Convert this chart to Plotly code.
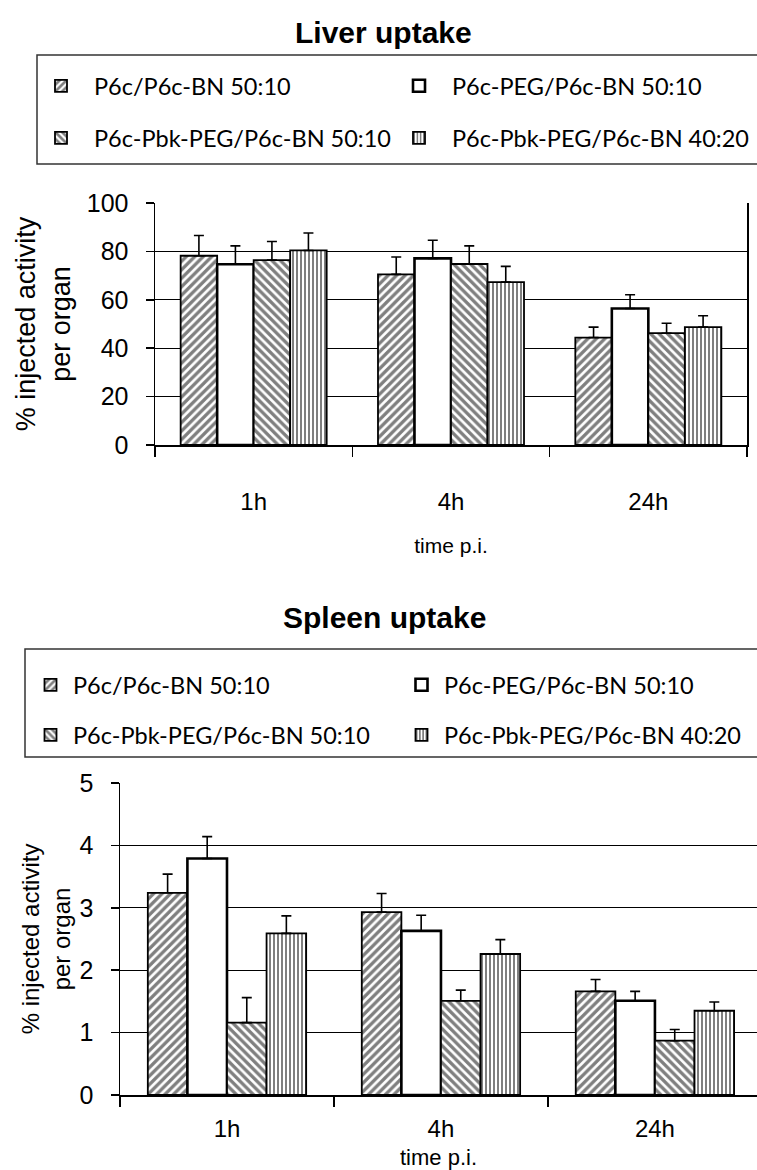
import plotly.graph_objects as go

# ---------------- data ----------------
categories = ["1h", "4h", "24h"]
series_names = [
    "P6c/P6c-BN 50:10",
    "P6c-PEG/P6c-BN 50:10",
    "P6c-Pbk-PEG/P6c-BN 50:10",
    "P6c-Pbk-PEG/P6c-BN 40:20",
]

liver_p6c = [78.2, 70.5, 44.4]
liver_peg = [74.7, 77.1, 56.4]
liver_pbk_50 = [76.4, 74.8, 46.2]
liver_pbk_40 = [80.4, 67.3, 48.7]

liver_p6c_err = [8.4, 7.2, 4.3]
liver_peg_err = [7.6, 7.5, 5.7]
liver_pbk_50_err = [7.7, 7.5, 4.1]
liver_pbk_40_err = [7.2, 6.5, 4.7]

spleen_p6c = [3.24, 2.93, 1.66]
spleen_peg = [3.79, 2.63, 1.51]
spleen_pbk_50 = [1.16, 1.51, 0.87]
spleen_pbk_40 = [2.59, 2.26, 1.35]

spleen_p6c_err = [0.30, 0.30, 0.19]
spleen_peg_err = [0.35, 0.25, 0.15]
spleen_pbk_50_err = [0.40, 0.17, 0.18]
spleen_pbk_40_err = [0.28, 0.23, 0.14]

liver_ticks = [0, 20, 40, 60, 80, 100]
spleen_ticks = [0, 1, 2, 3, 4, 5]

# ---------------- layout helpers ----------------
W, H = 757, 1170


def px(x):
    return x / W


def py(y):
    return 1 - y / H


AX_FONT = "Liberation Sans, Arial, sans-serif"
LEG_FONT = "Lato, Carlito, Calibri, sans-serif"

patterns = ["/", "", "\\", "|"]
pat_sizes = [6, 8, 6, 4]
pat_solid = [0.55, 0.3, 0.55, 0.5]
line_widths = [1.8, 2.6, 1.8, 1.8]

liver_vals = [liver_p6c, liver_peg, liver_pbk_50, liver_pbk_40]
liver_errs = [liver_p6c_err, liver_peg_err, liver_pbk_50_err, liver_pbk_40_err]
spleen_vals = [spleen_p6c, spleen_peg, spleen_pbk_50, spleen_pbk_40]
spleen_errs = [spleen_p6c_err, spleen_peg_err, spleen_pbk_50_err, spleen_pbk_40_err]

fig = go.Figure()


def add_series(vals, errs, xa, ya, legend_ids):
    for i, name in enumerate(series_names):
        fig.add_trace(go.Bar(
            x=categories, y=vals[i], name=name,
            xaxis=xa, yaxis=ya, legend=legend_ids[i],
            marker=dict(
                color="white",
                line=dict(color="black", width=line_widths[i]),
                pattern=dict(shape=patterns[i], fgcolor="black", bgcolor="white",
                             size=pat_sizes[i], solidity=pat_solid[i]),
            ),
            error_y=dict(type="data", array=errs[i], arrayminus=[0] * len(errs[i]),
                         symmetric=False, color="black", thickness=1.6, width=5),
        ))


add_series(liver_vals, liver_errs, "x", "y", ["legend", "legend2", "legend3", "legend4"])
add_series(spleen_vals, spleen_errs, "x2", "y2", ["legend5", "legend6", "legend7", "legend8"])

# legends: one per entry, positioned like the reference boxes
legend_layout = {}
top_text_x = [94, 452]
top_rows = [86, 138]
bot_text_x = [73, 444]
bot_rows = [685, 735]
ids_top = ["legend", "legend2", "legend3", "legend4"]
ids_bot = ["legend5", "legend6", "legend7", "legend8"]
for i in range(4):
    r, c = divmod(i, 2)
    iw_top = 56
    legend_layout[ids_top[i]] = dict(
        x=px(top_text_x[c] - iw_top - 10), y=py(top_rows[r]), xanchor="left", yanchor="middle",
        bgcolor="rgba(0,0,0,0)", borderwidth=0, itemwidth=iw_top,
        font=dict(family=LEG_FONT, size=23.5, color="black"),
    )
    iw_bot = 35
    legend_layout[ids_bot[i]] = dict(
        x=px(bot_text_x[c] - iw_bot - 10), y=py(bot_rows[r]), xanchor="left", yanchor="middle",
        bgcolor="rgba(0,0,0,0)", borderwidth=0, itemwidth=iw_bot,
        font=dict(family=LEG_FONT, size=23.5, color="black"),
    )

fig.update_layout(
    width=W, height=H, autosize=False,
    margin=dict(l=0, r=0, t=0, b=0),
    paper_bgcolor="white", plot_bgcolor="white",
    font=dict(family=AX_FONT, color="black"),
    barmode="group", bargap=0.26, bargroupgap=0,
    showlegend=True,
    **legend_layout,
    xaxis=dict(
        domain=[px(155), px(747)], anchor="y", type="category", range=[-0.5, 2.5],
        showline=True, linecolor="black", linewidth=1.5,
        ticks="outside", tickson="boundaries", ticklen=10, tickwidth=1.5, tickcolor="black",
        tickfont=dict(size=24), ticklabelstandoff=35, showgrid=False,
        title=dict(text="time p.i.", font=dict(size=21), standoff=24),
        automargin=False, fixedrange=True,
    ),
    yaxis=dict(
        domain=[py(445), py(203)], anchor="x", range=[0, 100], tickvals=liver_ticks,
        showgrid=True, gridcolor="black", gridwidth=1.2, zeroline=False,
        showline=True, linecolor="black", linewidth=1.5, mirror=True,
        ticks="outside", ticklen=8, tickwidth=1.5, tickcolor="black",
        tickfont=dict(size=25), ticklabelstandoff=12,
        title=dict(text="% injected activity<br>per organ", font=dict(size=27), standoff=8),
        automargin=False, fixedrange=True,
    ),
    xaxis2=dict(
        domain=[px(120), 1.0], anchor="y2", type="category", range=[-0.5, 2.477],
        showline=True, linecolor="black", linewidth=1.5,
        ticks="outside", tickson="boundaries", ticklen=10, tickwidth=1.5, tickcolor="black",
        tickfont=dict(size=24), ticklabelstandoff=12, showgrid=False,
        title=dict(text="time p.i.", font=dict(size=22), standoff=10),
        automargin=False, fixedrange=True,
    ),
    yaxis2=dict(
        domain=[py(1095), py(783)], anchor="x2", range=[0, 5], tickvals=spleen_ticks,
        showgrid=True, gridcolor="black", gridwidth=1.2, zeroline=False,
        showline=True, linecolor="black", linewidth=1.5, mirror=False,
        ticks="outside", ticklen=8, tickwidth=1.5, tickcolor="black",
        tickfont=dict(size=25), ticklabelstandoff=12,
        title=dict(text="% injected activity<br>per organ", font=dict(size=24), standoff=2),
        automargin=False, fixedrange=True,
    ),
    annotations=[
        dict(text="<b>Liver uptake</b>", x=px(383), y=py(32), xref="paper", yref="paper",
             xanchor="center", yanchor="middle", showarrow=False,
             font=dict(family=AX_FONT, size=30, color="black")),
        dict(text="<b>Spleen uptake</b>", x=px(384), y=py(617), xref="paper", yref="paper",
             xanchor="center", yanchor="middle", showarrow=False,
             font=dict(family=AX_FONT, size=30, color="black")),
    ],
    shapes=[
        dict(type="rect", xref="paper", yref="paper", x0=px(37), x1=px(770),
             y0=py(164), y1=py(55), line=dict(color="#333", width=1.5)),
        dict(type="rect", xref="paper", yref="paper", x0=px(25), x1=px(770),
             y0=py(757), y1=py(649), line=dict(color="#333", width=1.5)),
    ],
)

fig.write_html(
    "out.html",
    config={"displayModeBar": False, "staticPlot": True, "responsive": False},
    default_width="757px", default_height="1170px",
    post_script="document.body.style.margin='0';document.body.style.overflow='hidden';",
)
